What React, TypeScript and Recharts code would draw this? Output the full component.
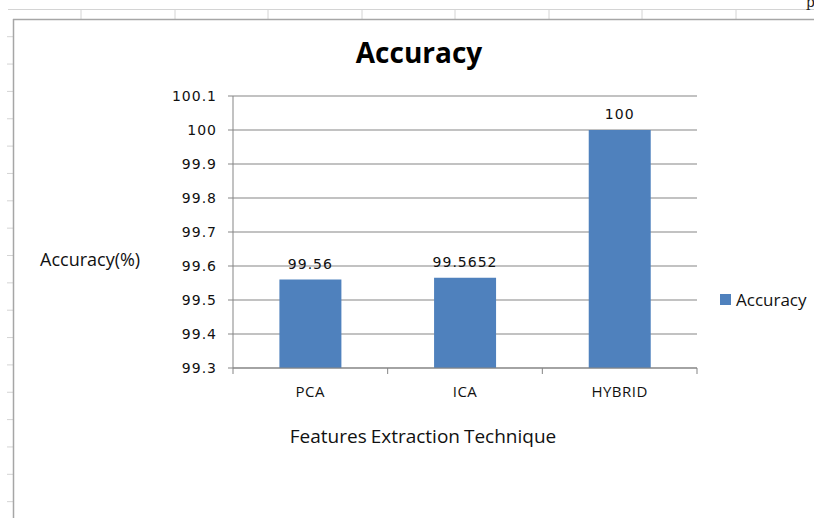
import React from 'react';
import { BarChart, Bar, XAxis, YAxis, CartesianGrid, LabelList } from 'recharts';

const techniques = ['PCA', 'ICA', 'HYBRID'];
const accuracy = [99.56, 99.5652, 100];
const yTicks = [99.3, 99.4, 99.5, 99.6, 99.7, 99.8, 99.9, 100, 100.1];

const data = techniques.map((name, i) => ({ name, value: accuracy[i] }));

const GRAY = '#858585';
const BAR = '#4F81BD';
const FONT = '"DejaVu Sans", Verdana, sans-serif';
const LABEL_FONT = '"Open Sans", Lato, sans-serif';

// category label plus the boundary tick marks Excel draws between categories
const CategoryTick = (props: any) => {
  const { x, y, payload, index, visibleTicksCount } = props;
  const half = payload?.offset ?? 0;
  const last = index === (visibleTicksCount ?? techniques.length) - 1;
  return (
    <g>
      <line x1={x - half} x2={x - half} y1={y - 8} y2={y - 2} stroke={GRAY} />
      {last && <line x1={x + half} x2={x + half} y1={y - 8} y2={y - 2} stroke={GRAY} />}
      <text
        x={x}
        y={y + 21}
        textAnchor="middle"
        fontSize={15}
        letterSpacing={0.5}
        fontFamily={LABEL_FONT}
        fill="#111"
      >
        {payload.value}
      </text>
    </g>
  );
};

// spreadsheet cell lines visible around the embedded chart
const SheetLines = () => {
  const cols = [81, 175, 268, 362, 455, 549, 642, 736];
  const rows = Array.from({ length: 18 }, (_, i) => 36.7 + i * 27.35);
  return (
    <svg width={814} height={518} style={{ position: 'absolute', left: 0, top: 0 }}>
      <line x1={8} x2={814} y1={9.5} y2={9.5} stroke="#d4d4d4" />
      {cols.map((c) => (
        <line key={c} x1={c} x2={c} y1={9} y2={19} stroke="#d4d4d4" />
      ))}
      {rows.map((r) => (
        <line key={r} x1={7} x2={13} y1={r} y2={r} stroke="#d4d4d4" />
      ))}
      <line x1={13.5} x2={13.5} y1={19} y2={518} stroke="#a6a6a6" strokeWidth={1.5} />
      <line x1={13} x2={814} y1={19.5} y2={19.5} stroke="#a6a6a6" strokeWidth={1.5} />
      <text x={806} y={7} fontSize={14} fontFamily="'DejaVu Serif', serif" fill="#222">p</text>
    </svg>
  );
};

export default function App() {
  return (
    <div
      style={{
        position: 'absolute',
        left: 0,
        top: 0,
        width: 814,
        height: 518,
        background: '#fff',
        overflow: 'hidden',
      }}
    >
      <SheetLines />
      <div style={{ position: 'absolute', left: 0, top: 0 }}>
        <BarChart
          width={814}
          height={518}
          data={data}
          margin={{ top: 96, right: 117, bottom: 0, left: 0 }}
          barCategoryGap="30%"
        >
          <CartesianGrid vertical={false} stroke={GRAY} strokeWidth={1.2} />
          <XAxis
            dataKey="name"
            height={150}
            axisLine={{ stroke: GRAY }}
            tickLine={false}
            tick={<CategoryTick />}
            interval={0}
          />
          <YAxis
            width={233}
            domain={[99.3, 100.1]}
            ticks={yTicks}
            interval={0}
            allowDataOverflow
            axisLine={{ stroke: GRAY }}
            tickLine={{ stroke: GRAY }}
            tickSize={5}
            tickMargin={11}
            tickFormatter={(v: number) => String(Math.round(v * 10) / 10)}
            tick={{ fill: '#111', fontSize: 14, fontFamily: FONT, letterSpacing: 1 }}
          />
          <Bar dataKey="value" fill={BAR} isAnimationActive={false}>
            <LabelList
              dataKey="value"
              position="top"
              offset={11}
              style={{ fill: '#111', fontSize: 14, fontFamily: FONT, letterSpacing: 1 }}
            />
          </Bar>
        </BarChart>
      </div>
      <div
        style={{
          position: 'absolute',
          left: 0,
          width: 838,
          top: 33,
          textAlign: 'center',
          fontFamily: LABEL_FONT,
          fontWeight: 700,
          fontSize: 28,
          color: '#000',
        }}
      >
        Accuracy
      </div>
      <div
        style={{
          position: 'absolute',
          left: 40,
          top: 247,
          fontFamily: LABEL_FONT,
          fontSize: 18,
          color: '#111',
        }}
      >
        Accuracy(%)
      </div>
      <div
        style={{
          position: 'absolute',
          left: 0,
          width: 846,
          top: 423,
          textAlign: 'center',
          fontFamily: LABEL_FONT,
          fontSize: 19,
          wordSpacing: -1,
          color: '#111',
        }}
      >
        Features Extraction Technique
      </div>
      <div
        style={{
          position: 'absolute',
          left: 720,
          top: 288,
          display: 'flex',
          alignItems: 'center',
          fontFamily: LABEL_FONT,
          fontSize: 17,
          color: '#111',
        }}
      >
        <span style={{ width: 11, height: 11, background: BAR, marginRight: 5, display: 'inline-block' }} />
        Accuracy
      </div>
    </div>
  );
}
